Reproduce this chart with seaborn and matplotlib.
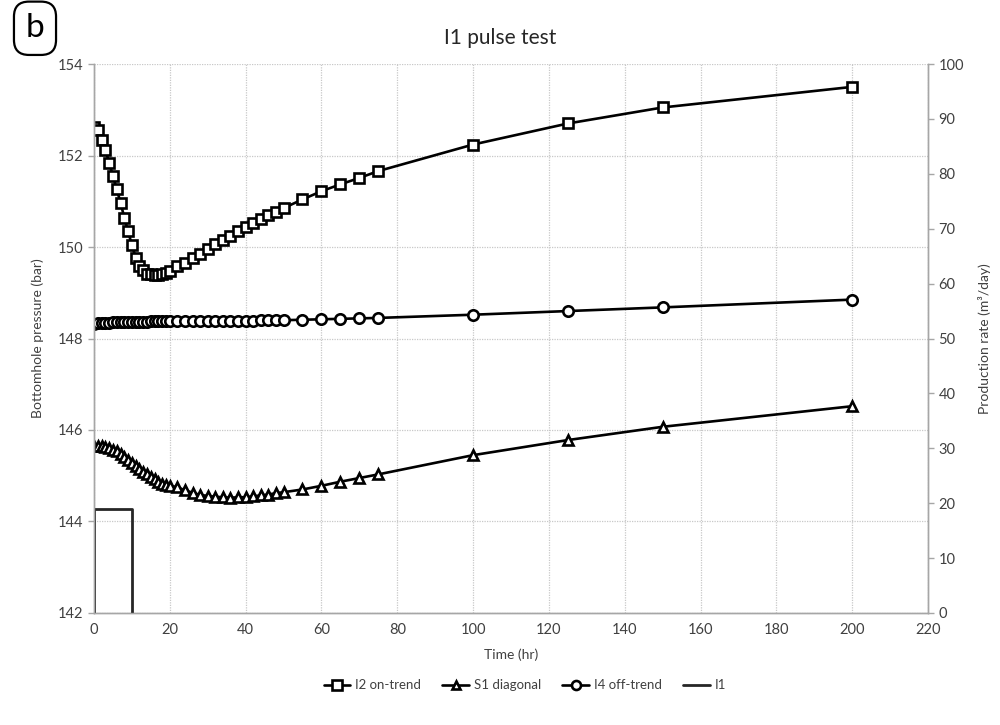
import matplotlib
matplotlib.use("Agg")
import matplotlib.pyplot as plt
from matplotlib.lines import Line2D
import seaborn as sns
import pandas as pd

# Observation times (hr)
time_hr = (list(range(0, 21)) + list(range(22, 51, 2))
           + [55, 60, 65, 70, 75, 100, 125, 150, 200])

# Bottomhole pressure responses (bar)
i2_on_trend = [152.62, 152.55, 152.35, 152.13, 151.84, 151.55, 151.26, 150.97,
               150.64, 150.34, 150.04, 149.77, 149.59, 149.49, 149.42, 149.40,
               149.39, 149.39, 149.41, 149.44, 149.48,
               149.59, 149.66, 149.75, 149.84, 149.96, 150.06, 150.15, 150.24,
               150.34, 150.44, 150.53, 150.61, 150.69, 150.77, 150.85,
               151.04, 151.22, 151.37, 151.51, 151.66, 152.24, 152.70, 153.05,
               153.50]
s1_diagonal = [145.65, 145.65, 145.64, 145.63, 145.61, 145.57, 145.53, 145.48,
               145.42, 145.35, 145.28, 145.22, 145.15, 145.09, 145.03, 144.97,
               144.92, 144.87, 144.83, 144.80, 144.78,
               144.75, 144.68, 144.63, 144.58, 144.56, 144.54, 144.53, 144.52,
               144.53, 144.53, 144.55, 144.57, 144.59, 144.62, 144.64,
               144.70, 144.78, 144.87, 144.95, 145.03, 145.45, 145.78, 146.07,
               146.52]
i4_off_trend = [148.32, 148.33, 148.33, 148.34, 148.34, 148.35, 148.35, 148.36,
                148.36, 148.36, 148.37, 148.37, 148.37, 148.37, 148.37, 148.38,
                148.38, 148.38, 148.38, 148.38, 148.38,
                148.38, 148.38, 148.38, 148.38, 148.38, 148.39, 148.39, 148.39,
                148.39, 148.39, 148.39, 148.40, 148.40, 148.40, 148.40,
                148.41, 148.42, 148.43, 148.44, 148.45, 148.52, 148.60, 148.68,
                148.85]

# Injection pulse of I1 (m3/day)
pulse_time = [0, 0, 10, 10]
pulse_rate = [0, 19, 19, 0]

sns.set_theme(style="white")
plt.rcParams["font.family"] = ["Lato", "DejaVu Sans"]

df = pd.DataFrame({"time": time_hr, "I2": i2_on_trend,
                   "S1": s1_diagonal, "I4": i4_off_trend})
pulse = pd.DataFrame({"time": pulse_time, "rate": pulse_rate})

fig = plt.figure(figsize=(10, 7.25), dpi=100)
ax = fig.add_axes([0.094, 0.1545, 0.834, 0.7572])
ax2 = ax.twinx()

line_kw = dict(color="black", linewidth=1.9, markerfacecolor="white",
               markeredgecolor="black", markeredgewidth=1.9)

sns.lineplot(data=df, x="time", y="I2", ax=ax, marker="s", markersize=7.5,
             **line_kw)
sns.lineplot(data=df, x="time", y="S1", ax=ax, marker="^", markersize=6.5,
             **line_kw)
sns.lineplot(data=df, x="time", y="I4", ax=ax, marker="o", markersize=7.5,
             **line_kw)
sns.lineplot(data=pulse, x="time", y="rate", ax=ax2, sort=False,
             estimator=None, errorbar=None,
             color="#262626", linewidth=2.0)

grey = "#a6a6a6"
txt = "#404040"

ax.set_xlim(0, 220)
ax.set_ylim(142, 154)
ax.set_xticks(range(0, 221, 20))
ax.set_yticks(range(142, 155, 2))
ax2.set_ylim(0, 100)
ax2.set_yticks(range(0, 101, 10))

ax.grid(True, color="#c8c8c8", linestyle=(0, (1, 1)), linewidth=0.9)
ax2.grid(False)

for a in (ax, ax2):
    a.spines["top"].set_visible(False)
    for s in ("left", "right", "bottom"):
        a.spines[s].set_color(grey)
        a.spines[s].set_linewidth(1.0)
    a.tick_params(axis="both", which="both", direction="out", length=4,
                  width=1.0, color=grey, labelcolor=txt, labelsize=10.5)

ax.set_xlabel("Time (hr)", fontsize=10, color=txt, labelpad=8)
ax.set_ylabel("Bottomhole pressure (bar)", fontsize=10, color=txt, labelpad=10)
ax2.set_ylabel("Production rate (m³/day)", fontsize=10, color=txt, labelpad=10)

fig.text(0.5, 0.947, "I1 pulse test", ha="center", va="center",
         fontsize=15, color="#262626")

fig.text(0.035, 0.961, "b", ha="center", va="center", fontsize=24,
         color="black",
         bbox=dict(boxstyle="round,pad=0.35,rounding_size=0.45",
                   fc="white", ec="black", lw=1.6))

handles = [
    Line2D([], [], marker="s", markersize=6.5, **line_kw),
    Line2D([], [], marker="^", markersize=6, **line_kw),
    Line2D([], [], marker="o", markersize=6.5, **line_kw),
    Line2D([], [], color="#262626", linewidth=2.0),
]
labels = ["I2 on-trend", "S1 diagonal", "I4 off-trend", "I1"]
fig.legend(handles, labels, loc="center", bbox_to_anchor=(0.525, 0.055),
           ncol=4, frameon=False, fontsize=9.5, handlelength=2.0,
           columnspacing=1.6, handletextpad=0.4, labelcolor=txt)

fig.savefig("out.png", dpi=100)
